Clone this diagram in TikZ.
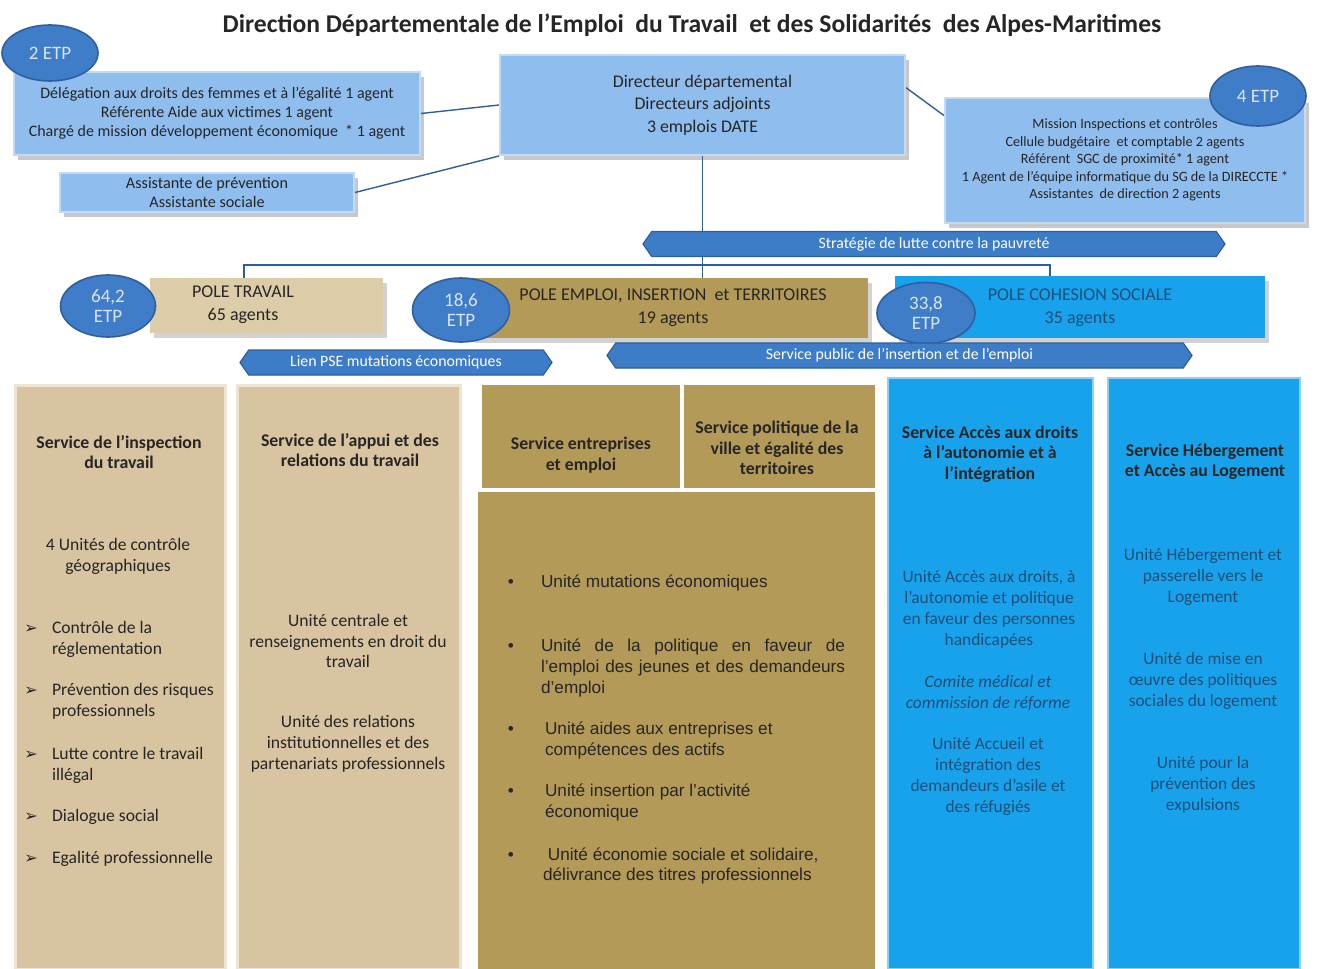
\documentclass[tikz,border=0pt]{standalone}
\usepackage{fontspec}
\setmainfont{Carlito}
\newfontfamily\arialf{Liberation Sans}
\newfontfamily\dejavu{DejaVu Sans}
\usetikzlibrary{shapes.geometric,shapes.symbols,shadows,backgrounds,calc}
\definecolor{lblue}{HTML}{8FBDEE}
\definecolor{ellblue}{HTML}{3F7DC8}
\definecolor{ellline}{HTML}{2F5F9F}
\definecolor{bannerblue}{HTML}{3D7CC6}
\definecolor{tanlight}{HTML}{DDCCA8}
\definecolor{tancol}{HTML}{D8C4A0}
\definecolor{olivebox}{HTML}{B49A58}
\definecolor{brightblue}{HTML}{18A2EC}
\definecolor{linkblue}{HTML}{2D5F9A}
\definecolor{dimtext}{HTML}{1E4F78}
\newcommand\fsz[2]{\fontsize{#1}{#2}\selectfont}
\pgfdeclarelayer{bgzero}
\pgfsetlayers{bgzero,background,main}
\begin{document}
\begin{tikzpicture}[x=0.5pt,y=-0.5pt,
 lbbox/.style={rectangle, fill=lblue, draw=lblue!55!white, line width=1pt,
   drop shadow={shadow xshift=2pt,shadow yshift=-2.5pt,opacity=0.3,fill=black!70},
   inner sep=0pt, align=center, text=black!85},
 etp/.style={ellipse, fill=ellblue, draw=ellline, line width=0.8pt, inner sep=0pt,
   align=center, text=white!80!ellblue, font=\fsz{9.5}{10}},
 banner/.style={signal, signal to=west and east, signal pointer angle=110,
   fill=bannerblue, draw=ellline, line width=0.6pt, inner sep=0pt, text=white,
   font=\fsz{7.9}{9}},
 polebox/.style={rectangle, inner sep=0pt,
   drop shadow={shadow xshift=2pt,shadow yshift=-2.5pt,opacity=0.25,fill=black!70}},
 colbox/.style={rectangle, inner sep=0pt, line width=1.5pt},
 hdr/.style={font=\bfseries\fsz{8.9}{10.2}, align=center, text=black!85},
 bodytxt/.style={font=\fsz{8.8}{10.4}, align=center, text=black!85},
 itemtxt/.style={font=\fsz{8.8}{10.5}, align=left, anchor=west, text=black!85},
 arrowb/.style={font=\dejavu\fsz{8}{9}, text=black!85},
 dotb/.style={font=\arialf\fsz{8.6}{10}, text=black!85},
 citem/.style={font=\arialf\fsz{8.6}{10.3}, align=left, anchor=west, text=black!85},
 bluetxt/.style={font=\fsz{8.7}{10.5}, align=center, text=dimtext},
 poletxt/.style={font=\fsz{9}{11.3}, align=center, text=black!85},
 link/.style={draw=linkblue, line width=0.7pt}
]
\begin{pgfonlayer}{bgzero}
\fill[white] (0,0) rectangle (1319,969);
\end{pgfonlayer}
\useasboundingbox (0,0) rectangle (1319,969);

% title
\node[font=\bfseries\fsz{12.8}{14}, text=black!85] (title) at (692,25)
  {Direction Départementale de l’Emploi\ \ du Travail\ \ et des Solidarités\ \ des Alpes-Maritimes};

% top boxes
\node[lbbox, minimum width=203pt, minimum height=41.5pt, font=\fsz{8}{9.5}] (lb1) at (217,113.5)
  {Délégation aux droits des femmes et à l’égalité 1 agent\\Référente Aide aux victimes 1 agent\\Chargé de mission développement économique~ * 1 agent};
\node[etp, minimum width=48pt, minimum height=28pt] (e2) at (50,53) {2 ETP};
\node[lbbox, minimum width=147pt, minimum height=19.5pt, font=\fsz{8.1}{9.5}] (lb2) at (207,192.5)
  {Assistante de prévention\\Assistante sociale};
\node[lbbox, minimum width=202.5pt, minimum height=50pt, font=\fsz{8.9}{11.25}] (dir) at (702.5,105)
  {Directeur départemental\\Directeurs adjoints\\3 emplois DATE};
\node[lbbox, minimum width=180pt, minimum height=62.5pt, font=\fsz{7.1}{8.75}] (rb) at (1125,160)
  {Mission Inspections et contrôles\\Cellule budgétaire~ et comptable 2 agents\\Référent~ SGC de proximité* 1 agent\\1 Agent de l’équipe informatique du SG de la DIRECCTE *\\Assistantes~ de direction 2 agents};
\node[etp, minimum width=48pt, minimum height=30pt] (e4) at (1258,96) {4 ETP};

% strategy banner
\node[banner, minimum width=291pt, minimum height=12.5pt] (strat) at (934,244)
  {Stratégie de lutte contre la pauvreté};

% poles
\node[polebox, fill=tanlight, minimum width=116.5pt, minimum height=27.5pt] (ptrav) at (266.5,305.5) {};
\node[poletxt] (ptravt) at (243,305) {POLE TRAVAIL\\65 agents};
\node[etp, minimum width=47.5pt, minimum height=31pt] (e64) at (108,306) {64,2\\ETP};

\node[polebox, fill=olivebox, minimum width=199pt, minimum height=30pt] (pemp) at (669,308) {};
\node[poletxt] (pempt) at (673,308) {POLE EMPLOI, INSERTION~ et TERRITOIRES\\19 agents};
\node[etp, minimum width=48.5pt, minimum height=32pt] (e18) at (461,310) {18,6\\ETP};

\node[polebox, fill=brightblue, minimum width=185pt, minimum height=31pt] (pcoh) at (1080,307) {};
\node[poletxt, text=dimtext] (pcoht) at (1080,307.5) {POLE COHESION SOCIALE\\35 agents};
\node[etp, minimum width=49pt, minimum height=30.5pt] (e33) at (926,313) {33,8\\ETP};

% banners under poles
\node[banner, minimum width=156pt, minimum height=12.5pt] (lien) at (396,362.5)
  {Lien PSE mutations économiques};
\node[banner, minimum width=292.5pt, minimum height=12.5pt] (spie) at (899.5,355.5)
  {Service public de l’insertion et de l’emploi};

% columns
\node[colbox, fill=tancol, draw=tancol!45!white, minimum width=105pt, minimum height=292pt] (col1) at (120,677) {};
\node[colbox, fill=tancol, draw=tancol!45!white, minimum width=111.5pt, minimum height=292pt] (col2) at (348.5,677) {};
\node[colbox, fill=olivebox, minimum width=99pt, minimum height=51.5pt] (c3a) at (581,436.5) {};
\node[colbox, fill=olivebox, minimum width=95.5pt, minimum height=51.5pt] (c3b) at (779.5,436.5) {};
\node[colbox, fill=olivebox, minimum width=198.5pt, minimum height=238.5pt] (c3c) at (676.5,730.5) {};
\node[colbox, fill=brightblue, draw=brightblue!50!white, line width=1pt, minimum width=102.5pt, minimum height=295.5pt] (col4) at (990.5,673.5) {};
\node[colbox, fill=brightblue, draw=brightblue!50!white, line width=1pt, minimum width=96pt, minimum height=295.5pt] (col5) at (1204,673.5) {};

% column 1
\node[hdr] (c1h) at (119,452) {Service de l’inspection\\du travail};
\node[bodytxt] (c1s) at (118,556) {4 Unités de contrôle\\géographiques};
\node[arrowb] (b1) at (31,629) {➢};
\node[itemtxt] (i1) at (45,639.5) {Contrôle de la\\réglementation};
\node[arrowb] (b2) at (31,691) {➢};
\node[itemtxt] (i2) at (45,701.5) {Prévention des risques\\professionnels};
\node[arrowb] (b3) at (31,755) {➢};
\node[itemtxt] (i3) at (45,765) {Lutte contre le travail\\illégal};
\node[arrowb] (b4) at (31,817) {➢};
\node[itemtxt] (i4) at (45,817) {Dialogue social};
\node[arrowb] (b5) at (31,859) {➢};
\node[itemtxt] (i5) at (45,859) {Egalité professionnelle};

% column 2
\node[hdr] (c2h) at (350,450) {Service de l’appui et des\\relations du travail};
\node[bodytxt] (c2a) at (348,641) {Unité centrale et\\renseignements en droit du\\travail};
\node[bodytxt] (c2b) at (348,744) {Unité des relations\\institutionnelles et des\\partenariats professionnels};

% column 3
\node[hdr] (c3ah) at (581,455) {Service entreprises\\et emploi};
\node[hdr] (c3bh) at (777,448) {Service politique de la\\ville et égalité des\\territoires};
\node[dotb] (d1) at (511,583) {•};
\node[citem] (u1) at (534,583) {Unité mutations économiques};
\node[dotb] (d2) at (511,647) {•};
\node[citem, text width=152pt, align=justify] (u2) at (534,668)
  {Unité de la politique en faveur de\linebreak l’emploi des jeunes et des demandeurs\linebreak d’emploi};
\node[dotb] (d3) at (511,730) {•};
\node[citem] (u3) at (538,740.5) {Unité aides aux entreprises et\\compétences des actifs};
\node[dotb] (d4) at (511,792) {•};
\node[citem] (u4) at (538,802.5) {Unité insertion par l’activité\\économique};
\node[dotb] (d5) at (511,856) {•};
\node[citem] (u5) at (536,866) {~Unité économie sociale et solidaire,\\délivrance des titres professionnels};

% column 4
\node[hdr] (c4h) at (990,454) {Service Accès aux droits\\à l’autonomie et à\\l’intégration};
\node[bluetxt] (c4a) at (989,609.5) {Unité Accès aux droits, à\\l’autonomie et politique\\en faveur des personnes\\handicapées};
\node[bluetxt, font=\itshape\fsz{8.7}{10.2}] (c4b) at (988,693) {Comite médical et\\commission de réforme};
\node[bluetxt] (c4c) at (988,776) {Unité Accueil et\\intégration des\\demandeurs d’asile et\\des réfugiés};

% column 5
\node[hdr] (c5h) at (1205,462) {Service Hébergement\\et Accès au Logement};
\node[bluetxt] (c5a) at (1203,577) {Unité Hébergement et\\passerelle vers le\\Logement};
\node[bluetxt] (c5b) at (1203,681) {Unité de mise en\\œuvre des politiques\\sociales du logement};
\node[bluetxt] (c5c) at (1203,785) {Unité pour la\\prévention des\\expulsions};

% connectors
\coordinate (jl) at (244,265);
\coordinate (jr) at (1050,265);
\begin{pgfonlayer}{background}
\draw[link] (lb1.east) -- (dir.west);
\draw[link] (lb2.east) -- (dir.south west);
\draw[link] ($(dir.north east)!0.33!(dir.south east)$) -- ($(rb.north west)!0.15!(rb.south west)$);
\draw[link] (dir.south) -- (dir.south |- pemp.north);
\draw[link] (jl |- ptrav.north) -- (jl) -- (jr) -- (jr |- pcoh.north);
\end{pgfonlayer}
\end{tikzpicture}
\end{document}
